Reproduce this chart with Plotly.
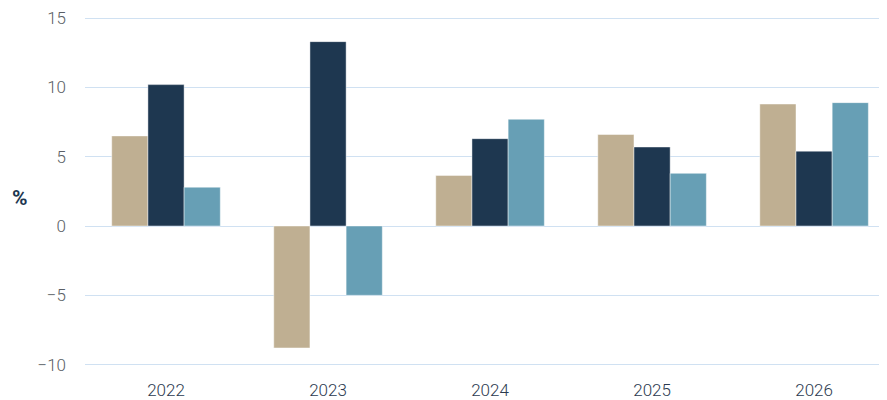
import plotly.graph_objects as go

years = ["2022", "2023", "2024", "2025", "2026"]
series_a = [6.5, -8.8, 3.65, 6.6, 8.8]
series_b = [10.2, 13.3, 6.3, 5.7, 5.4]
series_c = [2.8, -5.0, 7.7, 3.8, 8.9]
series_names = ["A", "B", "C"]
colors = ["#BFAF92", "#1E3750", "#679FB5"]
y_ticks = [-10, -5, 0, 5, 10, 15]

fig = go.Figure()
for name, vals, col in zip(series_names, [series_a, series_b, series_c], colors):
    fig.add_trace(go.Bar(
        x=years, y=vals, name=name,
        marker=dict(color=col, line=dict(color="rgba(255,255,255,0.45)", width=1)),
    ))

# the page body adds an 8px margin, so the figure is sized to fit the 887x400 window
fig.update_layout(
    width=879, height=392,
    margin=dict(l=77, r=0, t=8, b=29),
    barmode="group", bargap=0.33, bargroupgap=0,
    plot_bgcolor="white", paper_bgcolor="white",
    showlegend=False,
    font=dict(family="Roboto", size=17, color="#5a5f66", weight=300),
)
fig.update_xaxes(
    range=[-0.5, 4.45], showgrid=False, zeroline=False, showline=False,
    ticks="", tickfont=dict(color="#2b3a4f", size=17, family="Roboto", weight=300),
    ticklabelstandoff=12,
)
fig.update_yaxes(
    range=[-10.1, 15.15], tickvals=y_ticks, showgrid=True, gridcolor="#D0E1F2", gridwidth=1.3,
    zeroline=True, zerolinecolor="#D0E1F2", zerolinewidth=1.3, showline=False,
    ticks="", ticklabelstandoff=18, ticklabeloverflow="allow",
    tickfont=dict(color="#5a5f66", size=17, family="Roboto", weight=300),
)
fig.add_annotation(
    text="<b>%</b>", xref="paper", yref="paper", x=-0.081, y=0.48, xanchor="center",
    yanchor="middle", showarrow=False, font=dict(size=21, color="#1E3750", family="Roboto"),
)
fig.write_html("out.html")
